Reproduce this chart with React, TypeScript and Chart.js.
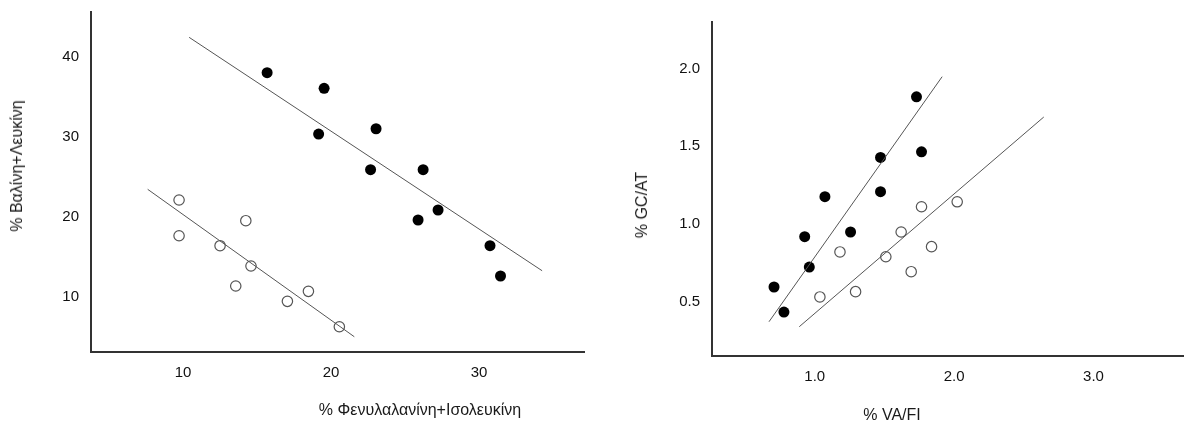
import React, { useEffect, useRef } from "react";
import { Chart, registerables } from "chart.js";

Chart.register(...registerables);

// ---------- Left panel data ----------
const leftXTicks = [10, 20, 30];
const leftYTicks = [10, 20, 30, 40];
const leftXRange = [3.78, 37.09];
const leftYRange = [3.07, 45.62];
const leftFilledX = [15.68, 19.53, 19.16, 23.04, 22.67, 26.22, 25.88, 27.23, 30.74, 31.45];
const leftFilledY = [38.02, 36.07, 30.35, 31.01, 25.88, 25.88, 19.59, 20.84, 16.37, 12.58];
const leftOpenX = [9.73, 9.73, 12.5, 14.24, 14.59, 13.56, 17.05, 18.47, 20.56];
const leftOpenY = [22.09, 17.62, 16.37, 19.5, 13.83, 11.33, 9.41, 10.66, 6.23];
const leftFilledLineX = [10.41, 34.26];
const leftFilledLineY = [42.45, 13.24];
const leftOpenLineX = [7.61, 21.57];
const leftOpenLineY = [23.43, 4.98];
const leftXTitle = "% Φενυλαλανίνη+Ισολευκίνη";
const leftYTitle = "% Βαλίνη+Λευκίνη";

// ---------- Right panel data ----------
const rightXTicks = [1, 2, 3];
const rightYTicks = [0.5, 1, 1.5, 2];
const rightXRange = [0.263, 3.649];
const rightYRange = [0.154, 2.298];
const rightFilledX = [0.708, 0.779, 0.928, 0.961, 1.073, 1.257, 1.472, 1.472, 1.73, 1.766];
const rightFilledY = [0.597, 0.436, 0.92, 0.725, 1.177, 0.95, 1.429, 1.209, 1.818, 1.465];
const rightOpenX = [1.037, 1.293, 1.181, 1.51, 1.692, 1.62, 1.838, 1.766, 2.022];
const rightOpenY = [0.533, 0.567, 0.822, 0.791, 0.695, 0.95, 0.856, 1.112, 1.144];
const rightFilledLineX = [0.672, 1.914];
const rightFilledLineY = [0.374, 1.947];
const rightOpenLineX = [0.889, 2.643];
const rightOpenLineY = [0.342, 1.688];
const rightXTitle = "% VA/FI";
const rightYTitle = "% GC/AT";

const FONT = "'Liberation Sans', Arial, Helvetica, sans-serif";

const zip = (xs: number[], ys: number[]) => xs.map((x, i) => ({ x, y: ys[i] }));

type PanelProps = {
  width: number;
  height: number;
  left: number;
  padTop: number;
  padRight: number;
  yAxisWidth: number;
  xAxisHeight: number;
  xRange: number[];
  yRange: number[];
  xTicks: number[];
  yTicks: number[];
  decimals: number;
  filledX: number[];
  filledY: number[];
  openX: number[];
  openY: number[];
  filledLineX: number[];
  filledLineY: number[];
  openLineX: number[];
  openLineY: number[];
};

function Panel(p: PanelProps) {
  const ref = useRef<HTMLCanvasElement | null>(null);
  useEffect(() => {
    if (!ref.current) return;
    const tickFont = { family: FONT, size: 15 };
    const chart = new Chart(ref.current, {
      type: "scatter",
      data: {
        datasets: [
          {
            data: zip(p.filledLineX, p.filledLineY),
            showLine: true,
            borderColor: "#555",
            borderWidth: 1,
            pointRadius: 0,
          },
          {
            data: zip(p.openLineX, p.openLineY),
            showLine: true,
            borderColor: "#555",
            borderWidth: 1,
            pointRadius: 0,
          },
          {
            data: zip(p.filledX, p.filledY),
            backgroundColor: "#000",
            borderColor: "#000",
            borderWidth: 0,
            pointRadius: 5.5,
          },
          {
            data: zip(p.openX, p.openY),
            backgroundColor: "rgba(255,255,255,0)",
            borderColor: "#555",
            borderWidth: 1.2,
            pointRadius: 5.2,
          },
        ] as any,
      },
      options: {
        animation: false,
        responsive: false,
        events: [],
        layout: {
          autoPadding: false,
          padding: { top: p.padTop, right: p.padRight, left: 0, bottom: 0 },
        },
        plugins: { legend: { display: false }, tooltip: { enabled: false } },
        scales: {
          x: {
            type: "linear",
            min: p.xRange[0],
            max: p.xRange[1],
            grid: { display: false, drawTicks: false },
            border: { display: true, color: "#333", width: 2 },
            ticks: {
              padding: 12,
              color: "#111",
              font: tickFont,
              maxRotation: 0,
              callback: (v: any) => Number(v).toFixed(p.decimals),
            },
            afterBuildTicks: (s: any) => {
              s.ticks = p.xTicks.map((v) => ({ value: v }));
            },
            afterFit: (s: any) => {
              s.height = p.xAxisHeight;
              s.paddingLeft = 0;
              s.paddingRight = 0;
              s.paddingTop = 0;
              s.paddingBottom = 0;
            },
          },
          y: {
            type: "linear",
            min: p.yRange[0],
            max: p.yRange[1],
            grid: { display: false, drawTicks: false },
            border: { display: true, color: "#333", width: 2 },
            ticks: {
              padding: 12,
              color: "#111",
              font: tickFont,
              callback: (v: any) => Number(v).toFixed(p.decimals),
            },
            afterBuildTicks: (s: any) => {
              s.ticks = p.yTicks.map((v) => ({ value: v }));
            },
            afterFit: (s: any) => {
              s.width = p.yAxisWidth;
              s.paddingLeft = 0;
              s.paddingRight = 0;
              s.paddingTop = 0;
              s.paddingBottom = 0;
            },
          },
        },
      } as any,
    });
    return () => chart.destroy();
  }, []);
  return (
    <canvas
      ref={ref}
      width={p.width}
      height={p.height}
      style={{ position: "absolute", left: p.left, top: 0, width: p.width, height: p.height }}
    />
  );
}

const titleStyle: React.CSSProperties = {
  position: "absolute",
  fontFamily: FONT,
  fontSize: 16,
  color: "#1a1a1a",
  whiteSpace: "nowrap",
  lineHeight: "18px",
};

export default function App() {
  return (
    <div
      style={{
        position: "fixed",
        left: 0,
        top: 0,
        width: 1184,
        height: 422,
        background: "#fff",
        overflow: "hidden",
      }}
    >
      <Panel
        width={600}
        height={422}
        left={0}
        padTop={12}
        padRight={16}
        yAxisWidth={91}
        xAxisHeight={70}
        xRange={leftXRange}
        yRange={leftYRange}
        xTicks={leftXTicks}
        yTicks={leftYTicks}
        decimals={0}
        filledX={leftFilledX}
        filledY={leftFilledY}
        openX={leftOpenX}
        openY={leftOpenY}
        filledLineX={leftFilledLineX}
        filledLineY={leftFilledLineY}
        openLineX={leftOpenLineX}
        openLineY={leftOpenLineY}
      />
      <Panel
        width={584}
        height={422}
        left={600}
        padTop={22}
        padRight={0}
        yAxisWidth={112}
        xAxisHeight={66}
        xRange={rightXRange}
        yRange={rightYRange}
        xTicks={rightXTicks}
        yTicks={rightYTicks}
        decimals={1}
        filledX={rightFilledX}
        filledY={rightFilledY}
        openX={rightOpenX}
        openY={rightOpenY}
        filledLineX={rightFilledLineX}
        filledLineY={rightFilledLineY}
        openLineX={rightOpenLineX}
        openLineY={rightOpenLineY}
      />
      <div style={{ ...titleStyle, left: 420, top: 410, transform: "translate(-50%, -50%)" }}>
        {leftXTitle}
      </div>
      <div
        style={{
          ...titleStyle,
          left: 17,
          top: 166,
          transform: "translate(-50%, -50%) rotate(-90deg)",
        }}
      >
        {leftYTitle}
      </div>
      <div style={{ ...titleStyle, left: 892, top: 415, transform: "translate(-50%, -50%)" }}>
        {rightXTitle}
      </div>
      <div
        style={{
          ...titleStyle,
          left: 642,
          top: 205,
          transform: "translate(-50%, -50%) rotate(-90deg)",
        }}
      >
        {rightYTitle}
      </div>
    </div>
  );
}
